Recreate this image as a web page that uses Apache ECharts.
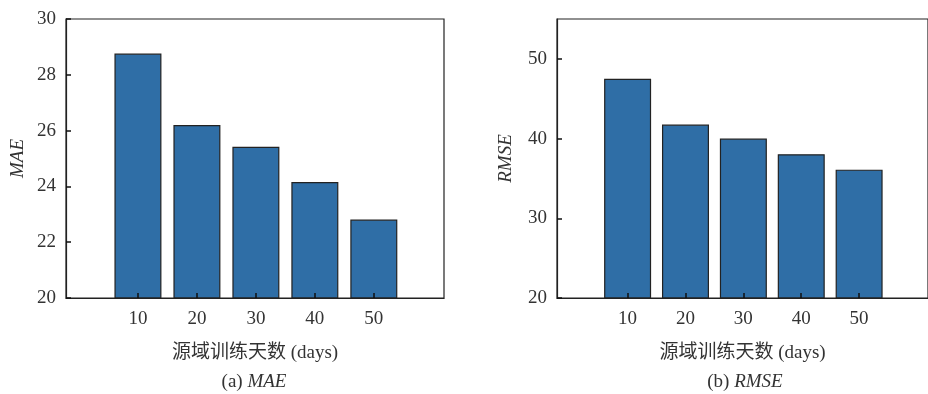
<!DOCTYPE html>
<html><head><meta charset="utf-8">
<script src="https://cdn.jsdelivr.net/npm/echarts@6/dist/echarts.min.js"></script>
<style>html,body{margin:0;padding:0;background:#fff}#c{width:928px;height:394px}</style>
</head><body><div id="c"></div>
<script>
const days = [10, 20, 30, 40, 50];
const maeValues = [28.76, 26.2, 25.42, 24.16, 22.81];
const rmseValues = [47.5, 41.75, 40.0, 38.04, 36.1];
const maeTicks = [20, 22, 24, 26, 28, 30];
const rmseTicks = [20, 30, 40, 50];
const xTitle = '源域训练天数 (days)';

const FONT = '"Liberation Serif", "Times New Roman", "Noto Sans CJK SC", serif';
const TXT = '#333';
const BAR = '#2f6ea6';
const FS = 19;

function xAxisCfg(idx) {
  return {
    type: 'value', gridIndex: idx, min: -2.2, max: 61.9,
    splitLine: { show: false },
    axisLine: { show: true, onZero: false, lineStyle: { color: '#222', width: 1.2 } },
    axisTick: { show: true, inside: true, length: 5, customValues: days, lineStyle: { color: '#111', width: 1.5 } },
    axisLabel: { show: true, customValues: days, margin: 12, fontFamily: FONT, fontSize: FS, color: TXT },
    name: xTitle, nameLocation: 'middle', nameGap: 46,
    nameTextStyle: { fontFamily: FONT, fontSize: FS, color: TXT }
  };
}
function yAxisCfg(idx, min, max, interval, ticks, name, gap) {
  return {
    type: 'value', gridIndex: idx, min: min, max: max, interval: interval,
    splitLine: { show: false },
    axisLine: { show: true, onZero: false, lineStyle: { color: '#222', width: 1.2 } },
    axisTick: { show: true, inside: true, length: 5, lineStyle: { color: '#111', width: 1.5 } },
    axisLabel: { show: true, showMaxLabel: idx === 0, margin: 10, fontFamily: FONT, fontSize: FS, color: TXT },
    name: name, nameLocation: 'middle', nameGap: gap,
    nameTextStyle: { fontFamily: FONT, fontSize: FS, fontStyle: 'italic', color: TXT }
  };
}
function seriesCfg(idx, vals) {
  return {
    type: 'bar', xAxisIndex: idx, yAxisIndex: idx,
    data: days.map((d, i) => [d, vals[i]]),
    barWidth: 47,
    itemStyle: { color: BAR, borderColor: '#222', borderWidth: 1.2 },
    silent: true, z: -1
  };
}

const chart = echarts.init(document.getElementById('c'), null, { renderer: 'canvas' });
chart.setOption({
  animation: false,
  backgroundColor: '#fff',
  grid: [
    { left: 66, top: 19, width: 378, height: 279, show: true, borderColor: '#222', borderWidth: 1.2, backgroundColor: 'transparent', z: 0 },
    { left: 557, top: 19, width: 378, height: 279, show: true, borderColor: '#222', borderWidth: 1.2, backgroundColor: 'transparent', z: 0 }
  ],
  xAxis: [xAxisCfg(0), xAxisCfg(1)],
  yAxis: [
    yAxisCfg(0, 20, 30, 2, maeTicks, 'MAE', 38),
    yAxisCfg(1, 20, 55, 10, rmseTicks, 'RMSE', 41)
  ],
  series: [seriesCfg(0, maeValues), seriesCfg(1, rmseValues)],
  graphic: [
    {
      type: 'text', x: 254, y: 382,
      style: {
        text: '(a) {i|MAE}', textAlign: 'center', textVerticalAlign: 'middle',
        fontFamily: FONT, fontSize: FS, fill: TXT,
        rich: { i: { fontFamily: FONT, fontSize: FS, fontStyle: 'italic', color: TXT } }
      }
    },
    {
      type: 'text', x: 745, y: 382,
      style: {
        text: '(b) {i|RMSE}', textAlign: 'center', textVerticalAlign: 'middle',
        fontFamily: FONT, fontSize: FS, fill: TXT,
        rich: { i: { fontFamily: FONT, fontSize: FS, fontStyle: 'italic', color: TXT } }
      }
    }
  ]
});
</script></body></html>
